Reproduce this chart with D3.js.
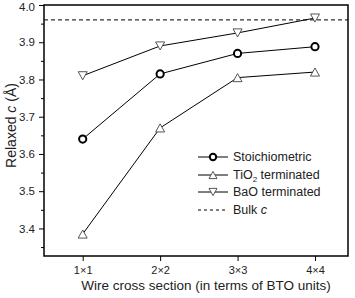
<!DOCTYPE html>
<html>
<head>
<meta charset="utf-8">
<script src="https://cdn.jsdelivr.net/npm/d3@7"></script>
<style>
  body { margin: 0; background: #fff; }
  text { font-family: "Liberation Sans", Arial, sans-serif; fill: #222; }
</style>
</head>
<body>
<div id="container"></div>
<script>
const sizes = ["1\u00d71", "2\u00d72", "3\u00d73", "4\u00d74"];
const stoich = [3.64, 3.815, 3.87, 3.888];
const tio2 = [3.385, 3.67, 3.805, 3.82];
const bao = [3.81, 3.89, 3.925, 3.965];
const bulkC = 3.96;
const yTicks = [3.4, 3.5, 3.6, 3.7, 3.8, 3.9, 4.0];

const width = 355, height = 298;
const margin = {top: 5, right: 7, bottom: 42, left: 44};

const svg = d3.select("#container").append("svg")
    .attr("width", width).attr("height", height);

const x = d3.scalePoint().domain(sizes)
    .range([82.7, 315]);
const y = d3.scaleLinear().domain([3.326, 4.0])
    .range([height - margin.bottom, margin.top]);

// frame
svg.append("rect")
    .attr("x", margin.left).attr("y", margin.top)
    .attr("width", width - margin.left - margin.right)
    .attr("height", height - margin.top - margin.bottom)
    .attr("fill", "none").attr("stroke", "#000").attr("stroke-width", 1.5);

// y axis
const yAxis = svg.append("g").attr("transform", `translate(${margin.left},0)`)
    .call(d3.axisLeft(y).tickValues(yTicks).tickFormat(d3.format(".1f")).tickSize(5).tickPadding(4));
yAxis.select(".domain").remove();
yAxis.selectAll("text").attr("font-size", 11.5);
yAxis.selectAll(".tick").filter(d => d === 4.0).select("text").attr("dy", "0.5em");
svg.append("g").attr("transform", `translate(${margin.left},0)`)
    .call(d3.axisLeft(y).tickValues(d3.range(3.35, 4.0, 0.1)).tickFormat("").tickSize(3))
    .select(".domain").remove();

// x axis
const xAxis = svg.append("g").attr("transform", `translate(0,${height - margin.bottom})`)
    .call(d3.axisBottom(x).tickSize(5).tickPadding(5));
xAxis.select(".domain").remove();
xAxis.selectAll("text").attr("font-size", 11);

svg.append("text")
    .attr("x", (margin.left + width - margin.right) / 2 + 10)
    .attr("y", 290)
    .attr("text-anchor", "middle")
    .attr("font-size", 13.5)
    .text("Wire cross section (in terms of BTO units)");

const yl = svg.append("text")
    .attr("transform", `translate(16,${(margin.top + height - margin.bottom) / 2 - 5}) rotate(-90)`)
    .attr("text-anchor", "middle")
    .attr("font-size", 14);
yl.append("tspan").text("Relaxed ");
yl.append("tspan").attr("font-style", "italic").text("c");
yl.append("tspan").text(" (\u00c5)");

// bulk line
svg.append("line")
    .attr("x1", margin.left).attr("x2", width - margin.right)
    .attr("y1", y(bulkC)).attr("y2", y(bulkC))
    .attr("stroke", "#000").attr("stroke-dasharray", "4,3");

const line = d3.line().x((d, i) => x(sizes[i])).y(d => y(d));

function triPath(up, s) {
    const h = s * 0.9;
    return up
        ? `M0,${-h / 2}L${s / 2},${h / 2}L${-s / 2},${h / 2}Z`
        : `M0,${h / 2}L${s / 2},${-h / 2}L${-s / 2},${-h / 2}Z`;
}

const series = [
    {data: stoich, kind: "circle"},
    {data: tio2, kind: "up"},
    {data: bao, kind: "down"}
];

series.forEach(s => {
    svg.append("path").datum(s.data)
        .attr("d", line).attr("fill", "none")
        .attr("stroke", "#000").attr("stroke-width", 1);
    const g = svg.selectAll(null).data(s.data).enter().append("g")
        .attr("transform", (d, i) => `translate(${x(sizes[i])},${y(d)})`);
    if (s.kind === "circle") {
        g.append("circle").attr("r", 3.6).attr("fill", "#fff")
            .attr("stroke", "#000").attr("stroke-width", 2);
    } else {
        g.append("path").attr("d", triPath(s.kind === "up", 9))
            .attr("fill", "#fff").attr("stroke", "#444").attr("stroke-width", 0.9);
    }
});

// legend
const legend = [
    {label: "Stoichiometric", kind: "circle"},
    {label: "TiO2", kind: "up"},
    {label: "BaO terminated", kind: "down"},
    {label: "Bulk", kind: "dash"}
];
const legY = [157, 175, 192, 210];
legend.forEach((l, i) => {
    const g = svg.append("g").attr("transform", `translate(198,${legY[i]})`);
    if (l.kind === "dash") {
        g.append("line").attr("x1", 0).attr("x2", 30).attr("stroke", "#000")
            .attr("stroke-dasharray", "3,3");
    } else {
        g.append("line").attr("x1", 0).attr("x2", 30).attr("stroke", "#000");
        if (l.kind === "circle") {
            g.append("circle").attr("cx", 15).attr("r", 3.2).attr("fill", "#fff")
                .attr("stroke", "#000").attr("stroke-width", 2);
        } else {
            g.append("path").attr("transform", "translate(15,0)")
                .attr("d", triPath(l.kind === "up", 8))
                .attr("fill", "#fff").attr("stroke", "#444").attr("stroke-width", 0.9);
        }
    }
    const t = g.append("text").attr("x", 35).attr("dy", "0.35em").attr("font-size", 12.5);
    if (l.kind === "up") {
        t.append("tspan").text("TiO");
        t.append("tspan").attr("font-size", 8).attr("dy", "3").text("2");
        t.append("tspan").attr("dy", "-3").text(" terminated");
    } else if (l.kind === "dash") {
        t.append("tspan").text("Bulk ");
        t.append("tspan").attr("font-style", "italic").text("c");
    } else {
        t.text(l.label);
    }
});
</script>
</body>
</html>
